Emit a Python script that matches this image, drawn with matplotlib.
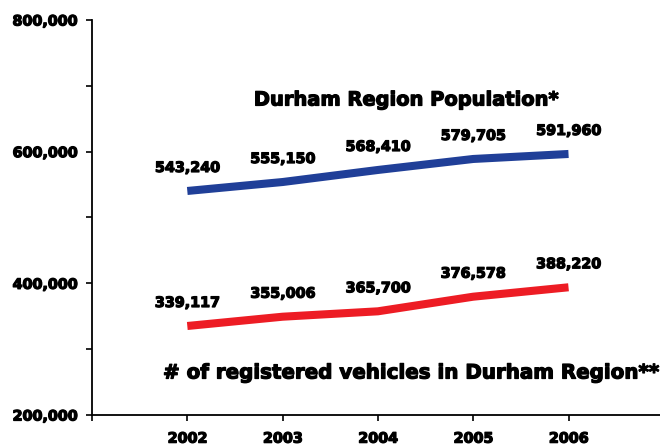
import matplotlib
matplotlib.use('Agg')
import matplotlib.pyplot as plt
import matplotlib.patheffects as pe
from matplotlib.ticker import FuncFormatter, MultipleLocator

years = [2002, 2003, 2004, 2005, 2006]

# population line as drawn, and the printed labels
population = [540300, 553900, 572200, 588900, 596500]
population_labels = ['543,240', '555,150', '568,410', '579,705', '591,960']

# registered vehicles line as drawn, and the printed labels
vehicles = [335200, 349300, 357500, 379700, 394000]
vehicles_labels = ['339,117', '355,006', '365,700', '376,578', '388,220']

plt.rcParams['font.family'] = ['DejaVu Sans']
plt.rcParams['font.weight'] = 'bold'

# thicken the glyphs a bit, the original uses a very heavy face
heavy = [pe.withStroke(linewidth=0.9, foreground='black')]

fig = plt.figure(figsize=(6.6, 4.46), dpi=100)
ax = fig.add_axes([92 / 660, 31 / 446, 1 - 92 / 660, 395 / 446])

ax.plot(years, population, color='#203f98', lw=5.8, solid_capstyle='butt')
ax.plot(years, vehicles, color='#ed1c24', lw=5.8, solid_capstyle='butt')

for x, y, s in zip(years, population, population_labels):
    ax.annotate(s, (x, y), xytext=(0, 23), textcoords='offset pixels',
                ha='center', va='center', fontsize=10.3, fontweight='bold',
                path_effects=heavy)
for x, y, s in zip(years, vehicles, vehicles_labels):
    ax.annotate(s, (x, y), xytext=(0, 23), textcoords='offset pixels',
                ha='center', va='center', fontsize=10.3, fontweight='bold',
                path_effects=heavy)

ax.text(2004.3, 678500, 'Durham Region Population*', ha='center', va='center',
        fontsize=14, fontweight='bold', path_effects=heavy)
ax.text(2004.35, 263800, '# of registered vehicles in Durham Region**', ha='center',
        va='center', fontsize=14.3, fontweight='bold', path_effects=heavy)

ax.set_xlim(2001, 2006.96)
ax.set_ylim(200000, 800000)
ax.set_xticks(years)
ax.set_xticklabels([str(y) for y in years])
ax.xaxis.set_minor_locator(MultipleLocator(1))
ax.set_yticks([200000, 400000, 600000, 800000])
ax.yaxis.set_minor_locator(MultipleLocator(100000))
ax.yaxis.set_major_formatter(FuncFormatter(lambda v, p: f'{int(v):,}'))

for side in ['top', 'right']:
    ax.spines[side].set_visible(False)
for side in ['left', 'bottom']:
    ax.spines[side].set_linewidth(1.3)

ax.tick_params(which='both', direction='out', length=4, width=1.2)
ax.tick_params(axis='y', pad=7, labelsize=10.3)
ax.tick_params(axis='x', pad=8, labelsize=10.3)
for lab in ax.get_xticklabels() + ax.get_yticklabels():
    lab.set_fontweight('bold')
    lab.set_path_effects(heavy)

fig.savefig('out.png', dpi=100)
